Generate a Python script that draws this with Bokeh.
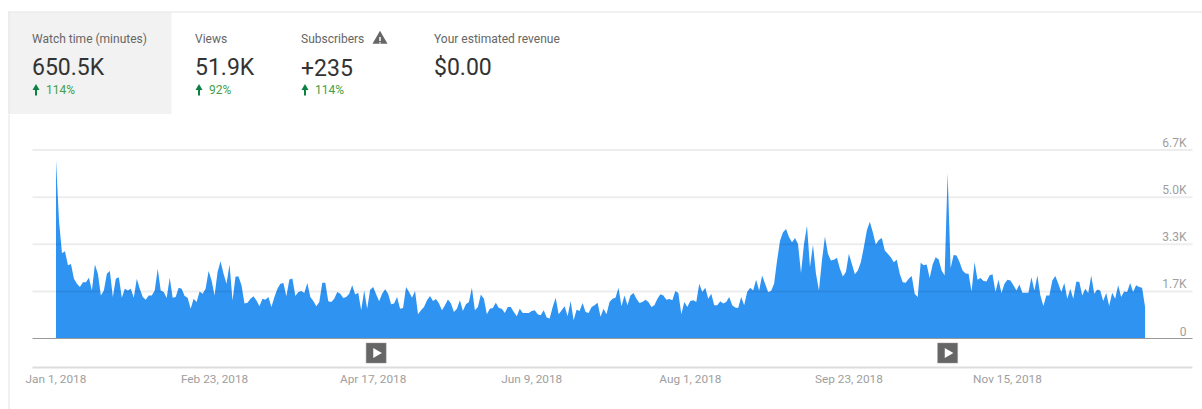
import math
import pandas as pd
from bokeh.embed import file_html
from bokeh.layouts import column
from bokeh.models import ColumnDataSource, DatetimeAxis, FixedTicker, Range1d
from bokeh.plotting import figure
from bokeh.resources import INLINE
from bokeh.core.properties import value

FONT = "Roboto"

# ---- data ----
watch_minutes = [
 6350,4190,3030,3100,2600,2650,2120,1950,1830,2000,2000,2160,1710,2630,2300,1530,1710,2300,2400,1475,
 2120,2180,1450,1770,1710,1770,1450,2120,1770,1475,1380,1530,1530,1710,2480,1710,1650,1440,2160,1450,
 1475,1800,1770,1510,1450,1060,1415,1300,1675,1590,1770,2400,2065,1530,2360,2750,2300,1950,2630,1350,
 2200,2200,1890,1240,1270,1415,1500,1350,1150,1415,1380,1475,1120,1475,1770,1950,1970,1500,2100,2130,
 1510,1650,1690,1620,1970,1475,1330,1150,1300,1980,1980,1320,1300,1415,1650,1590,1440,1475,1590,1890,
 1560,1630,1000,1710,1060,1735,1830,1570,1320,1590,1750,1590,1215,1240,1475,1060,1085,
 1830,1650,1450,1690,860,1000,1120,1360,1510,1330,1400,1240,1000,1180,1390,1240,945,1060,1360,980,
 1215,1300,1805,1000,1120,1560,1415,860,1060,1085,1275,1085,1060,910,1120,1120,945,790,1060,910,
 910,910,980,1000,860,825,1000,745,710,1120,1450,860,1000,1145,790,1330,650,1025,980,1260,
 945,910,1120,1180,1275,770,1060,860,1300,1415,1450,1805,1145,1530,1180,1530,1615,1415,1260,1300,
 1380,1300,1120,1180,1415,1570,1530,1380,1400,1360,1690,1615,860,1300,1120,1330,1360,1300,1950,1650,
 1805,1415,1590,1180,1180,1320,1240,1300,1475,1180,1100,1085,1475,1180,1650,1805,1710,2090,1710,
 2240,1950,1650,1690,1950,2770,3480,3780,3890,3600,3420,3575,3360,2325,3360,4010,2540,3330,2300,1710,
 2770,3630,3010,2770,2800,2870,2480,2200,2360,3010,2650,2280,2420,2710,3245,3835,4150,3780,3340,3500,
 3575,3130,3010,2890,2710,2800,2300,2000,1980,2120,2220,1590,1475,2690,2600,2630,2150,2630,2890,2810,
 2420,2240,5880,2500,2970,2950,2710,2420,2310,2300,1675,2710,2090,2150,2040,2030,2240,2280,1650,2090,
 1615,1950,2090,2065,1890,1710,1920,1630,1630,1630,2180,1710,2240,1530,1155,1530,1530,2065,2220,1950,
 1650,1970,1415,1770,1415,2020,2020,1530,1770,1615,2240,1590,1745,1710,1330,1615,1155,1630,1415,1890,
 1475,1675,1650,1970,1650,1890,1830,1805,1120,
]
y_ticks = [0, 1675, 3350, 5025, 6700]
y_labels = ["0", "1.7K", "3.3K", "5.0K", "6.7K"]
x_tick_dates = ["2018-01-01", "2018-02-23", "2018-04-17", "2018-06-09", "2018-08-01", "2018-09-23", "2018-11-15"]
x_tick_labels = ["Jan 1, 2018", "Feb 23, 2018", "Apr 17, 2018", "Jun 9, 2018", "Aug 1, 2018", "Sep 23, 2018", "Nov 15, 2018"]
video_dates = ["2018-04-18", "2018-10-26"]

metric_names = ["Watch time (minutes)", "Views", "Subscribers", "Your estimated revenue"]
metric_values = ["650.5K", "51.9K", "+235", "$0.00"]
metric_changes = ["114%", "92%", "114%", ""]

# ---- page geometry ----
PAGE_W, PAGE_H = 1202, 409
HEAD_H = 114
CHART_H = PAGE_H - HEAD_H
PX_PER_DAY = 2.992
PX_PER_UNIT = 0.02813
X0_PX, Y0_PX = 55.5, 338
DAY_MS = 86400000.0
T0 = pd.Timestamp("2018-01-01").value / 1e6


def ms(d):
    return pd.Timestamp(d).value / 1e6


def x_at(px):
    return T0 + (px - X0_PX) / PX_PER_DAY * DAY_MS


def y_at(py):
    return (Y0_PX - py) / PX_PER_UNIT


# ---- header ----
h = figure(width=PAGE_W, height=HEAD_H, x_range=Range1d(0, PAGE_W), y_range=Range1d(HEAD_H, 0),
           x_axis_location=None, y_axis_location=None, toolbar_location=None,
           output_backend="svg", min_border=0, outline_line_color=None, tools="")
h.grid.visible = False
h.quad(left=[8], right=[171], top=[12], bottom=[114], fill_color="#f2f2f2", line_color=None)
h.segment(x0=[8], y0=[11.5], x1=[1202], y1=[11.5], line_color="#e3e3e3", line_width=1)
h.segment(x0=[8.5], y0=[11], x1=[8.5], y1=[114], line_color="#e3e3e3", line_width=1)

col_x = [31.5, 194.5, 300.5, 433.5]
chg_x = [45.5, 208.5, 314.5, 0]
for nm, val, chg, cx, gx in zip(metric_names, metric_values, metric_changes, col_x, chg_x):
    h.text(x=[cx], y=[38], text=[nm], text_font=value(FONT), text_font_size="12px",
           text_color="#666666", text_baseline="middle")
    h.text(x=[cx], y=[67], text=[val], text_font=value(FONT), text_font_size="23px",
           text_color="#333333", text_baseline="middle")
    if chg:
        h.text(x=[gx], y=[89.5], text=[chg], text_font=value(FONT), text_font_size="12px",
               text_color="#43a047", text_baseline="middle")
        h.segment(x0=[cx + 4], y0=[88], x1=[cx + 4], y1=[95], line_color="#0b8043", line_width=2)
        h.scatter(x=[cx + 4], y=[87.5], marker="triangle", size=7, fill_color="#0b8043", line_color=None)

h.scatter(x=[379.5], y=[39], marker="triangle", size=15, fill_color="#666666", line_color=None)
h.segment(x0=[379.5], y0=[36.5], x1=[379.5], y1=[40.5], line_color="white", line_width=1.5)
h.segment(x0=[379.5], y0=[41.8], x1=[379.5], y1=[43], line_color="white", line_width=1.5)

# ---- chart ----
dates = pd.date_range("2018-01-01", periods=len(watch_minutes))
src = ColumnDataSource(dict(x=[d.value / 1e6 for d in dates], y=watch_minutes, y0=[0] * len(watch_minutes)))

p = figure(width=PAGE_W, height=CHART_H,
           x_range=Range1d(x_at(0), x_at(PAGE_W)), y_range=Range1d(y_at(PAGE_H), y_at(HEAD_H)),
           x_axis_location=None, y_axis_location=None, toolbar_location=None,
           output_backend="svg", min_border=0, outline_line_color=None, tools="")
p.xgrid.visible = False
p.ygrid.visible = False

p.varea(x="x", y1="y0", y2="y", source=src, fill_color="#2f93f2")

# horizontal rules, translucent so they show faintly over the area
n = len(y_ticks) - 1
p.segment(x0=[x_at(32)] * n, y0=y_ticks[1:], x1=[x_at(1192)] * n, y1=y_ticks[1:],
          line_color="#000000", line_alpha=0.07, line_width=2)

p.segment(x0=[x_at(32)], y0=[0], x1=[x_at(1192)], y1=[0], line_color="#9a9a9a", line_width=1)
p.segment(x0=[x_at(8.5)], y0=[y_at(HEAD_H)], x1=[x_at(8.5)], y1=[y_at(PAGE_H)], line_color="#e3e3e3", line_width=1)

xaxis = DatetimeAxis(ticker=FixedTicker(ticks=[ms(d) for d in x_tick_dates]),
                     fixed_location=y_at(366.5), bounds=(x_at(32), x_at(1192)),
                     axis_line_color="#dddddd", axis_line_width=2,
                     major_tick_line_color=None, minor_tick_line_color=None,
                     major_label_standoff=-1, major_label_text_color="#9e9e9e",
                     major_label_text_font=FONT, major_label_text_font_size="11.8px")
xaxis.major_label_overrides = {ms(d): t for d, t in zip(x_tick_dates, x_tick_labels)}
p.add_layout(xaxis, "below")

p.text(x=[x_at(1186)] * len(y_ticks), y=y_ticks, text=y_labels, y_offset=-7,
       text_font=value(FONT), text_font_size="12px", text_color="#9e9e9e",
       text_align="right", text_baseline="middle")

vx = [ms(d) for d in video_dates]
vy = [y_at(352.5)] * len(vx)
p.scatter(x=vx, y=vy, marker="square", size=20, fill_color="#666666", line_color="#999999", line_width=0.5)
p.scatter(x=vx, y=vy, marker="triangle", size=10, angle=-math.pi / 2, fill_color="white", line_color=None)

open("out.html", "w").write(file_html(column(h, p, spacing=0), INLINE))
